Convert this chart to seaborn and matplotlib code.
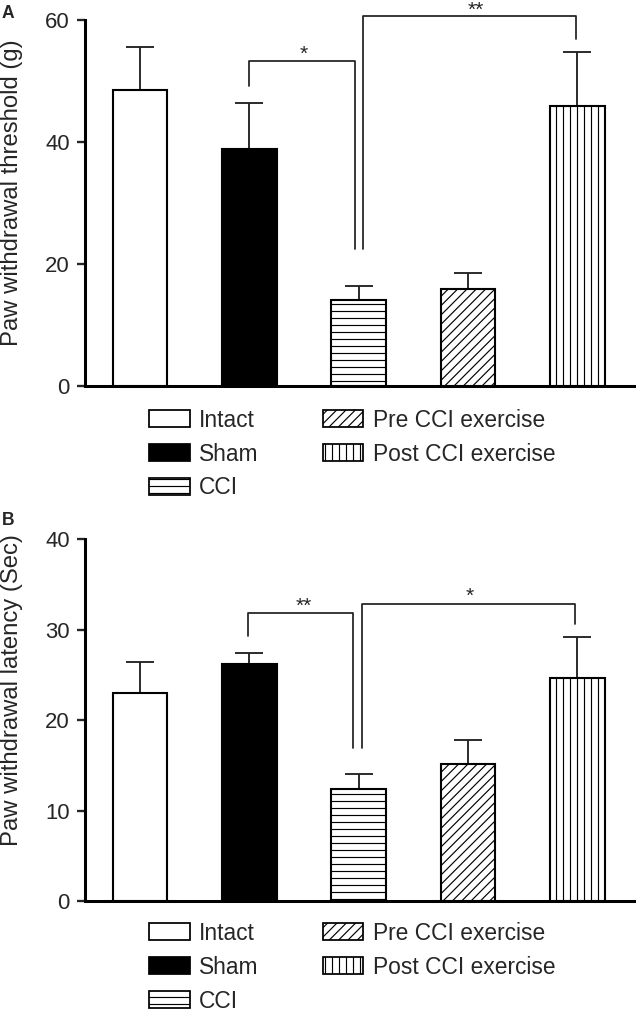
import numpy as np
import pandas as pd
import matplotlib
matplotlib.use("Agg")
import matplotlib.pyplot as plt
import matplotlib.patches as mpatches
import seaborn as sns

# ── data ────────────────────────────────────────────────────
groups = ["Intact", "Sham", "CCI", "Pre CCI exercise", "Post CCI exercise"]

threshold_mean = [48.6, 38.9, 14.0, 15.9, 45.9]
threshold_sem  = [7.0, 7.5, 2.3, 2.6, 9.0]

latency_mean = [23.0, 26.2, 12.4, 15.2, 24.7]
latency_sem  = [3.4, 1.2, 1.7, 2.6, 4.5]

# significance brackets: (x_left, y_left, y_top, x_right, y_right, star x, star y, label)
threshold_sig = [
    (1.00, 49.3, 53.4, 1.97, 22.5, 1.50, 53.6, "*"),
    (2.04, 22.5, 60.7, 3.99, 57.0, 3.07, 60.7, "**"),
]
latency_sig = [
    (0.99, 29.3, 31.8, 1.95, 16.9, 1.50, 32.0, "**"),
    (2.03, 16.9, 32.8, 3.98, 30.6, 3.02, 33.1, "*"),
]

# ── style ───────────────────────────────────────────────────
DPI = 84
sns.set_style("white")
plt.rcParams["font.family"] = ["Liberation Sans", "DejaVu Sans"]
plt.rcParams["hatch.linewidth"] = 1.0
plt.rcParams["hatch.color"] = "black"

FACES   = ["white", "black", "white", "white", "white"]
HATCHES = ["", "", "--", "///", "||"]


def draw_panel(ax, means, sems, yticks, ylabel, sig, label_y):
    df = pd.DataFrame({"group": groups, "value": means})
    sns.barplot(data=df, x="group", y="value", order=groups, ax=ax,
                color="white", edgecolor="black", linewidth=1.8,
                width=0.5, errorbar=None, zorder=3)
    for patch, fc, h in zip(ax.patches, FACES, HATCHES):
        patch.set_facecolor(fc)
        patch.set_hatch(h)

    x = np.arange(len(groups))
    ax.errorbar(x, means, yerr=[np.zeros(len(means)), sems], fmt="none",
                ecolor="#222222", elinewidth=1.6, capsize=12, capthick=1.6,
                zorder=2)

    for xl, yl, yt, xr, yr, sx, sy, s in sig:
        ax.plot([xl, xl, xr, xr], [yl, yt, yt, yr], color="#222222",
                lw=1.5, clip_on=False, zorder=4)
        ax.text(sx, sy, s, ha="center", va="baseline", fontsize=18,
                clip_on=False)

    ax.set_xlim(-0.505, 4.53)
    ax.set_ylim(0, yticks[-1])
    ax.set_yticks(yticks)
    ax.set_xticks([])
    ax.set_xlabel("")
    ax.set_ylabel(ylabel, fontsize=20.5)
    ax.yaxis.set_label_coords(-0.112, label_y)
    ax.tick_params(axis="y", direction="out", length=7, width=2,
                   pad=6, labelsize=19, left=True)
    for side in ["top", "right"]:
        ax.spines[side].set_visible(False)
    for side in ["left", "bottom"]:
        ax.spines[side].set_linewidth(2.6)
        ax.spines[side].set_color("black")


fig = plt.figure(figsize=(636 / DPI, 1014 / DPI), dpi=DPI)
ax_a = fig.add_axes([0.1336, 0.6198, 0.865, 0.3600])
ax_b = fig.add_axes([0.1336, 0.1110, 0.865, 0.3574])

draw_panel(ax_a, threshold_mean, threshold_sem, [0, 20, 40, 60],
           "Paw withdrawal threshold (g)", threshold_sig, 0.527)
draw_panel(ax_b, latency_mean, latency_sem, [0, 10, 20, 30, 40],
           "Paw withdrawal latency (Sec)", latency_sig, 0.583)

fig.text(0.003, 0.995, "A", fontsize=15, fontweight="bold", va="top")
fig.text(0.003, 0.495, "B", fontsize=15, fontweight="bold", va="top")

# legends (column-wise fill: 3 + 2)
handles = [mpatches.Patch(facecolor=fc, edgecolor="black", hatch=h,
                          linewidth=1.5, label=g)
           for g, fc, h in zip(groups, FACES, HATCHES)]
for ax, anchor_y in [(ax_a, 0.597), (ax_b, 0.091)]:
    fig.legend(handles=handles, ncol=2, loc="upper left",
               bbox_to_anchor=(0.234, anchor_y), frameon=False,
               fontsize=19.5, handlelength=1.8, handleheight=0.75,
               handletextpad=0.42, labelspacing=0.48, columnspacing=2.8,
               borderaxespad=0, borderpad=0)

fig.savefig("out.png", dpi=DPI)
